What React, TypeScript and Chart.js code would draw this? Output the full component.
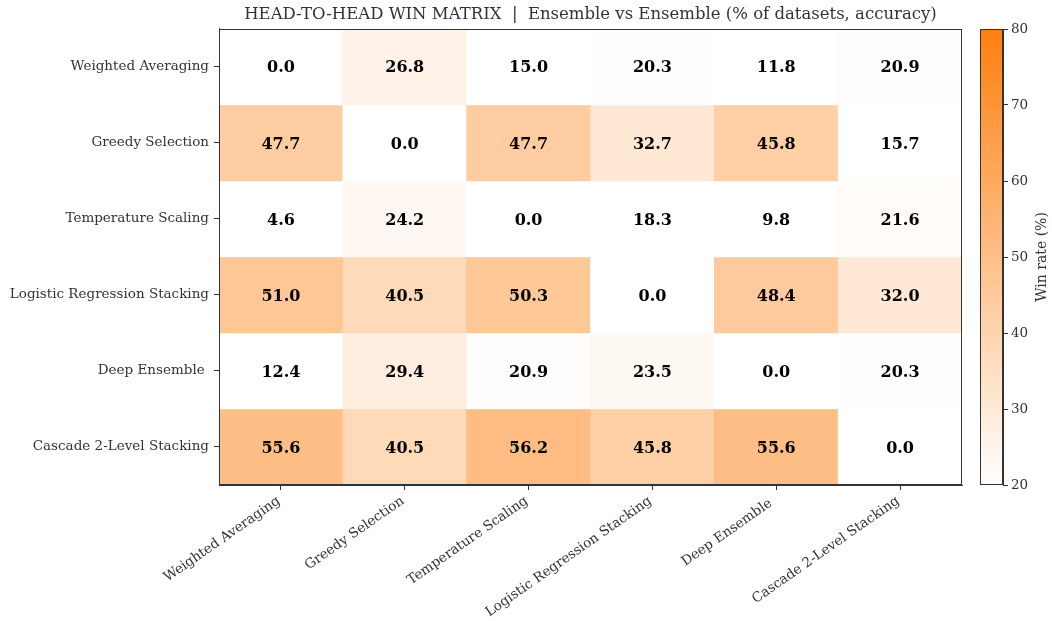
import React, { useEffect, useRef } from "react";
import { Chart, registerables } from "chart.js";

Chart.register(...registerables);

// ---------- data ----------
const ENSEMBLES = [
  "Weighted Averaging",
  "Greedy Selection",
  "Temperature Scaling",
  "Logistic Regression Stacking",
  "Deep Ensemble ",
  "Cascade 2-Level Stacking",
];

const ROW_WEIGHTED_AVERAGING = [0.0, 26.8, 15.0, 20.3, 11.8, 20.9];
const ROW_GREEDY_SELECTION = [47.7, 0.0, 47.7, 32.7, 45.8, 15.7];
const ROW_TEMPERATURE_SCALING = [4.6, 24.2, 0.0, 18.3, 9.8, 21.6];
const ROW_LOGISTIC_STACKING = [51.0, 40.5, 50.3, 0.0, 48.4, 32.0];
const ROW_DEEP_ENSEMBLE = [12.4, 29.4, 20.9, 23.5, 0.0, 20.3];
const ROW_CASCADE_STACKING = [55.6, 40.5, 56.2, 45.8, 55.6, 0.0];

const WIN_MATRIX = [
  ROW_WEIGHTED_AVERAGING,
  ROW_GREEDY_SELECTION,
  ROW_TEMPERATURE_SCALING,
  ROW_LOGISTIC_STACKING,
  ROW_DEEP_ENSEMBLE,
  ROW_CASCADE_STACKING,
];

const CBAR_MIN = 20;
const CBAR_MAX = 80;
const CBAR_STEP = 10;

const TITLE = "HEAD-TO-HEAD WIN MATRIX  |  Ensemble vs Ensemble (% of datasets, accuracy)";
const CBAR_LABEL = "Win rate (%)";

// ---------- style ----------
const W = 1052;
const H = 621;
const FONT = "'DejaVu Serif', 'Liberation Serif', serif";
const TEXT = "#333333";
const LOW = [255, 255, 255];
const HIGH = [255, 127, 14];

function cmap(v: number, alpha: number) {
  const t = Math.max(0, Math.min(1, (v - CBAR_MIN) / (CBAR_MAX - CBAR_MIN)));
  const c = LOW.map((l, i) => Math.round(l + (HIGH[i] - l) * t));
  return `rgba(${c[0]},${c[1]},${c[2]},${alpha})`;
}

const framePlugin = {
  id: "frame",
  afterDraw(chart: any) {
    const { ctx, chartArea: a } = chart;
    ctx.save();
    ctx.strokeStyle = TEXT;
    ctx.lineWidth = 1;
    ctx.strokeRect(Math.round(a.left) + 0.5, Math.round(a.top) + 0.5, Math.round(a.right - a.left) - 1, Math.round(a.bottom - a.top) - 1);
    ctx.restore();
  },
};

const valueLabelPlugin = {
  id: "valueLabels",
  afterDatasetsDraw(chart: any) {
    const { ctx } = chart;
    ctx.save();
    ctx.font = `bold 16px ${FONT}`;
    ctx.fillStyle = "#000000";
    ctx.textAlign = "center";
    ctx.textBaseline = "middle";
    WIN_MATRIX.forEach((row, r) => {
      const meta = chart.getDatasetMeta(r);
      row.forEach((v, c) => {
        const el = meta.data[c];
        if (!el) return;
        ctx.fillText(v.toFixed(1), el.x, (el.y + el.base) / 2 + 1.5);
      });
    });
    ctx.restore();
  },
};

const cbarTitlePlugin = {
  id: "cbarTitle",
  afterDraw(chart: any) {
    const { ctx, chartArea: a } = chart;
    ctx.save();
    ctx.font = `14px ${FONT}`;
    ctx.fillStyle = TEXT;
    ctx.textAlign = "center";
    ctx.textBaseline = "middle";
    ctx.translate(1042, (a.top + a.bottom) / 2);
    ctx.rotate(-Math.PI / 2);
    ctx.fillText(CBAR_LABEL, 0, 0);
    ctx.restore();
  },
};

export default function App() {
  const mainRef = useRef<HTMLCanvasElement | null>(null);
  const cbarRef = useRef<HTMLCanvasElement | null>(null);

  useEffect(() => {
    if (!mainRef.current || !cbarRef.current) return;
    const tickFont = { family: FONT, size: 13.5 };

    const main = new Chart(mainRef.current, {
      type: "bar",
      data: {
        labels: ENSEMBLES,
        datasets: WIN_MATRIX.map((row, r) => ({
          label: ENSEMBLES[r],
          data: row.map(() => [r - 0.5, r + 0.5]),
          backgroundColor: row.map((v) => cmap(v, 0.85)),
          borderWidth: 0,
          grouped: false,
          categoryPercentage: 1,
          barPercentage: 1,
        })) as any,
      },
      options: {
        responsive: false,
        animation: false,
        events: [],
        layout: { padding: { left: 0, right: 90, top: 0, bottom: 0 } },
        plugins: {
          legend: { display: false },
          tooltip: { enabled: false },
          title: {
            display: true,
            text: TITLE,
            fullSize: false,
            color: TEXT,
            font: { family: FONT, size: 16.5, weight: "normal" },
            padding: { top: 5, bottom: 4 },
          },
        },
        scales: {
          x: {
            type: "category",
            offset: true,
            grid: { display: true, drawOnChartArea: false, drawTicks: true, tickLength: 5, color: TEXT, offset: false },
            border: { display: true, color: TEXT },
            ticks: {
              minRotation: 35,
              maxRotation: 35,
              autoSkip: false,
              font: tickFont,
              color: TEXT,
              padding: 3,
              labelOffset: -2,
            },
            afterFit: (s: any) => {
              s.height = 136;
            },
          },
          y: {
            type: "linear",
            reverse: true,
            min: -0.5,
            max: 5.5,
            afterBuildTicks: (s: any) => {
              s.ticks = ENSEMBLES.map((_, i) => ({ value: i }));
            },
            grid: { display: true, drawOnChartArea: false, drawTicks: true, tickLength: 5, color: TEXT },
            border: { display: true, color: TEXT },
            ticks: {
              font: tickFont,
              color: TEXT,
              padding: 5,
              callback: (v: any) => ENSEMBLES[v as number],
            },
            afterFit: (s: any) => {
              s.width = 219;
            },
          },
        },
      } as any,
      plugins: [valueLabelPlugin, framePlugin],
    });

    const cbar = new Chart(cbarRef.current, {
      type: "bar",
      data: {
        labels: ["cbar"],
        datasets: [
          {
            data: [[CBAR_MIN, CBAR_MAX]] as any,
            borderWidth: 0,
            categoryPercentage: 1,
            barPercentage: 1,
            backgroundColor: (ctx: any) => {
              const chart = ctx.chart;
              const ys = chart.scales?.y;
              if (!chart.chartArea || !ys) return cmap(50, 1);
              const g = chart.ctx.createLinearGradient(0, ys.getPixelForValue(CBAR_MIN), 0, ys.getPixelForValue(CBAR_MAX));
              g.addColorStop(0, cmap(CBAR_MIN, 1));
              g.addColorStop(0.5, cmap((CBAR_MIN + CBAR_MAX) / 2, 1));
              g.addColorStop(1, cmap(CBAR_MAX, 1));
              return g;
            },
          },
        ],
      },
      options: {
        responsive: false,
        animation: false,
        events: [],
        layout: { padding: { left: 980, right: 0, top: 29, bottom: 136 } },
        plugins: { legend: { display: false }, tooltip: { enabled: false } },
        scales: {
          x: { display: false },
          y: {
            position: "right",
            min: CBAR_MIN,
            max: CBAR_MAX,
            ticks: { stepSize: CBAR_STEP, font: tickFont, color: TEXT, padding: 3 },
            grid: { display: true, drawOnChartArea: false, drawTicks: true, tickLength: 5, color: TEXT },
            border: { display: true, color: TEXT },
            afterFit: (s: any) => {
              s.width = 49;
            },
          },
        },
      } as any,
      plugins: [framePlugin, cbarTitlePlugin],
    });

    return () => {
      main.destroy();
      cbar.destroy();
    };
  }, []);

  return (
    <div style={{ position: "absolute", left: 0, top: 0, width: W, height: H, background: "#ffffff" }}>
      <canvas ref={mainRef} width={W} height={H} style={{ position: "absolute", left: 0, top: 0 }} />
      <canvas ref={cbarRef} width={W} height={H} style={{ position: "absolute", left: 0, top: 0 }} />
    </div>
  );
}
